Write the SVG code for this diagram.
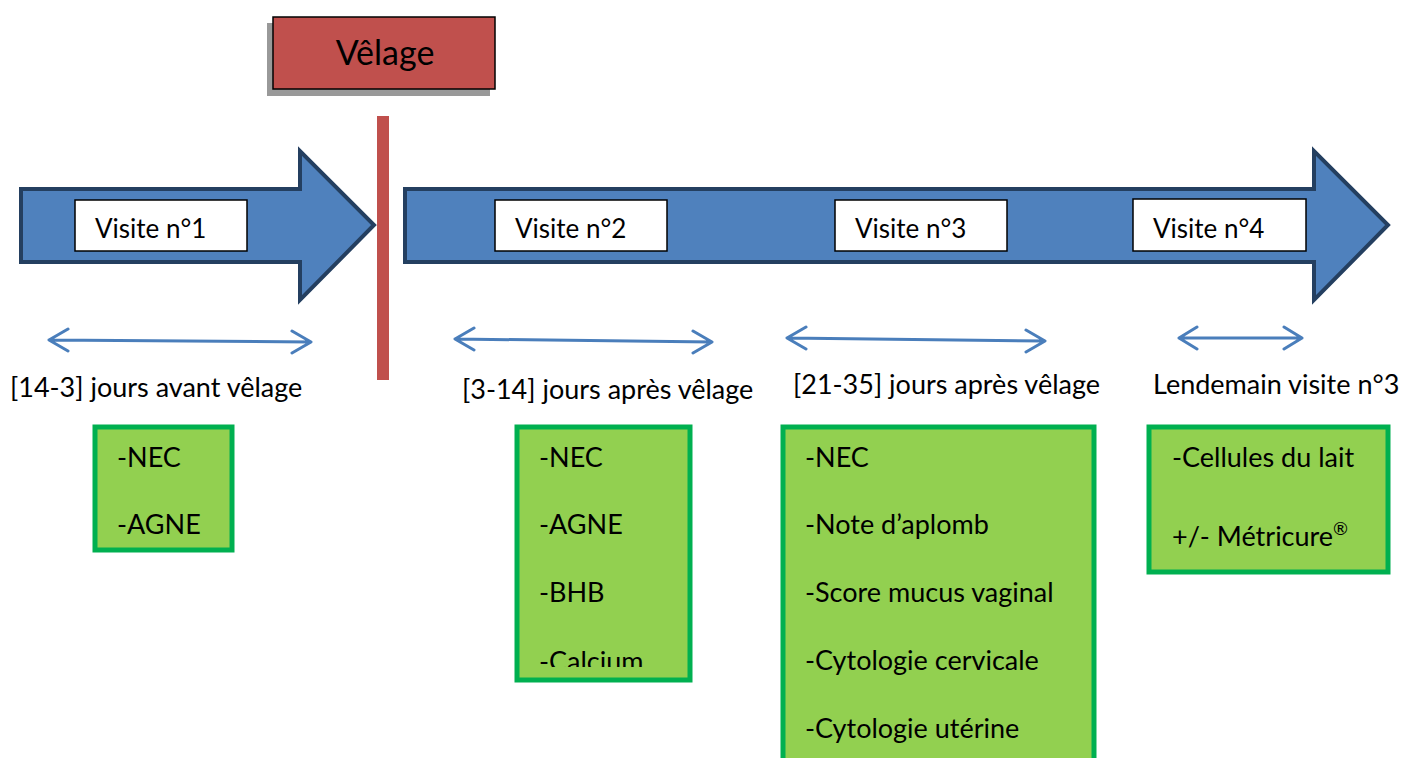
<svg xmlns="http://www.w3.org/2000/svg" width="1405" height="758" viewBox="0 0 1405 758">
<style>
  .t { font-family: Lato, "Liberation Sans", sans-serif; fill: #000; }
  .big { font-size: 27px; }
  .vis { font-size: 26px; }
  .arrow { fill: #4F81BD; stroke: #243F60; stroke-width: 4; stroke-linejoin: miter; }
  .vbox { fill: #fff; stroke: #000; stroke-width: 1.5; }
  .gbox { fill: #92D050; stroke: #00B050; stroke-width: 5; }
  .dbl { fill: none; stroke: #4A7EBB; stroke-width: 3; stroke-linecap: round; stroke-linejoin: round; }
</style>
<defs>
  <clipPath id="clip2"><rect x="517" y="428" width="171" height="239"/></clipPath>
</defs>
<rect width="1405" height="758" fill="#fff"/>

<g id="arrow-before">
  <polygon class="arrow" points="21,189 300,189 300,151 374,225 300,300 300,262 21,262"/>
</g>
<g id="arrow-after">
  <polygon class="arrow" points="405,189 1314,189 1314,151 1388,225 1314,300 1314,262 405,262"/>
</g>
<g id="velage-line">
  <rect x="377" y="116" width="12" height="264" fill="#C0504D"/>
</g>
<g id="velage">
  <rect x="267" y="23" width="223" height="73" fill="#999"/>
  <rect x="273" y="17" width="222" height="72" fill="#C0504D" stroke="#000" stroke-width="1.5"/>
  <text class="t" x="385" y="65" font-size="34" text-anchor="middle">Vêlage</text>
</g>

<g id="visite1">
  <rect class="vbox" x="75" y="200" width="172" height="51"/>
  <text class="t vis" x="95" y="238">Visite n°1</text>
</g>
<g id="visite2">
  <rect class="vbox" x="495" y="200" width="172" height="51"/>
  <text class="t vis" x="515" y="238">Visite n°2</text>
</g>
<g id="visite3">
  <rect class="vbox" x="835" y="200" width="172" height="51"/>
  <text class="t vis" x="855" y="238">Visite n°3</text>
</g>
<g id="visite4">
  <rect class="vbox" x="1133" y="199" width="173" height="52"/>
  <text class="t vis" x="1153" y="238">Visite n°4</text>
</g>

<g id="connectors">
  <path class="dbl" d="M49,340 L311,342 M68,329 L49,340 L68,351 M292,331 L311,342 L292,353"/>
  <path class="dbl" d="M455,339 L712,342 M474,328 L455,339 L474,350 M693,331 L712,342 L693,353"/>
  <path class="dbl" d="M787,338 L1045,341 M806,327 L787,338 L806,349 M1026,330 L1045,341 L1026,352"/>
  <path class="dbl" d="M1179,338 L1302,338 M1197,327 L1179,338 L1197,349 M1284,327 L1302,338 L1284,349"/>
</g>

<g id="label1"><text class="t big" x="10" y="397">[14-3] jours avant vêlage</text></g>
<g id="label2"><text class="t big" x="462" y="399">[3-14] jours après vêlage</text></g>
<g id="label3"><text class="t big" x="793" y="394">[21-35] jours après vêlage</text></g>
<g id="label4"><text class="t big" x="1153" y="394">Lendemain visite n°3</text></g>

<g id="box1">
  <rect class="gbox" x="95" y="427" width="137" height="123"/>
  <text class="t big" x="117" y="467">-NEC</text>
  <text class="t big" x="117" y="534">-AGNE</text>
</g>
<g id="box2">
  <rect class="gbox" x="517" y="427" width="173" height="253"/>
  <text class="t big" x="539" y="467">-NEC</text>
  <text class="t big" x="539" y="534">-AGNE</text>
  <text class="t big" x="539" y="602">-BHB</text>
  <text class="t big" x="539" y="671" clip-path="url(#clip2)">-Calcium</text>
</g>
<g id="box3">
  <rect class="gbox" x="783" y="427" width="311" height="340"/>
  <text class="t big" x="805" y="467">-NEC</text>
  <text class="t big" x="805" y="534">-Note d’aplomb</text>
  <text class="t big" x="805" y="602">-Score mucus vaginal</text>
  <text class="t big" x="805" y="670">-Cytologie cervicale</text>
  <text class="t big" x="805" y="738">-Cytologie utérine</text>
</g>
<g id="box4">
  <rect class="gbox" x="1149" y="427" width="239" height="145"/>
  <text class="t big" x="1172" y="467">-Cellules du lait</text>
  <text class="t big" x="1172" y="546">+/- Métricure<tspan font-size="18" dy="-11">®</tspan></text>
</g>
</svg>
